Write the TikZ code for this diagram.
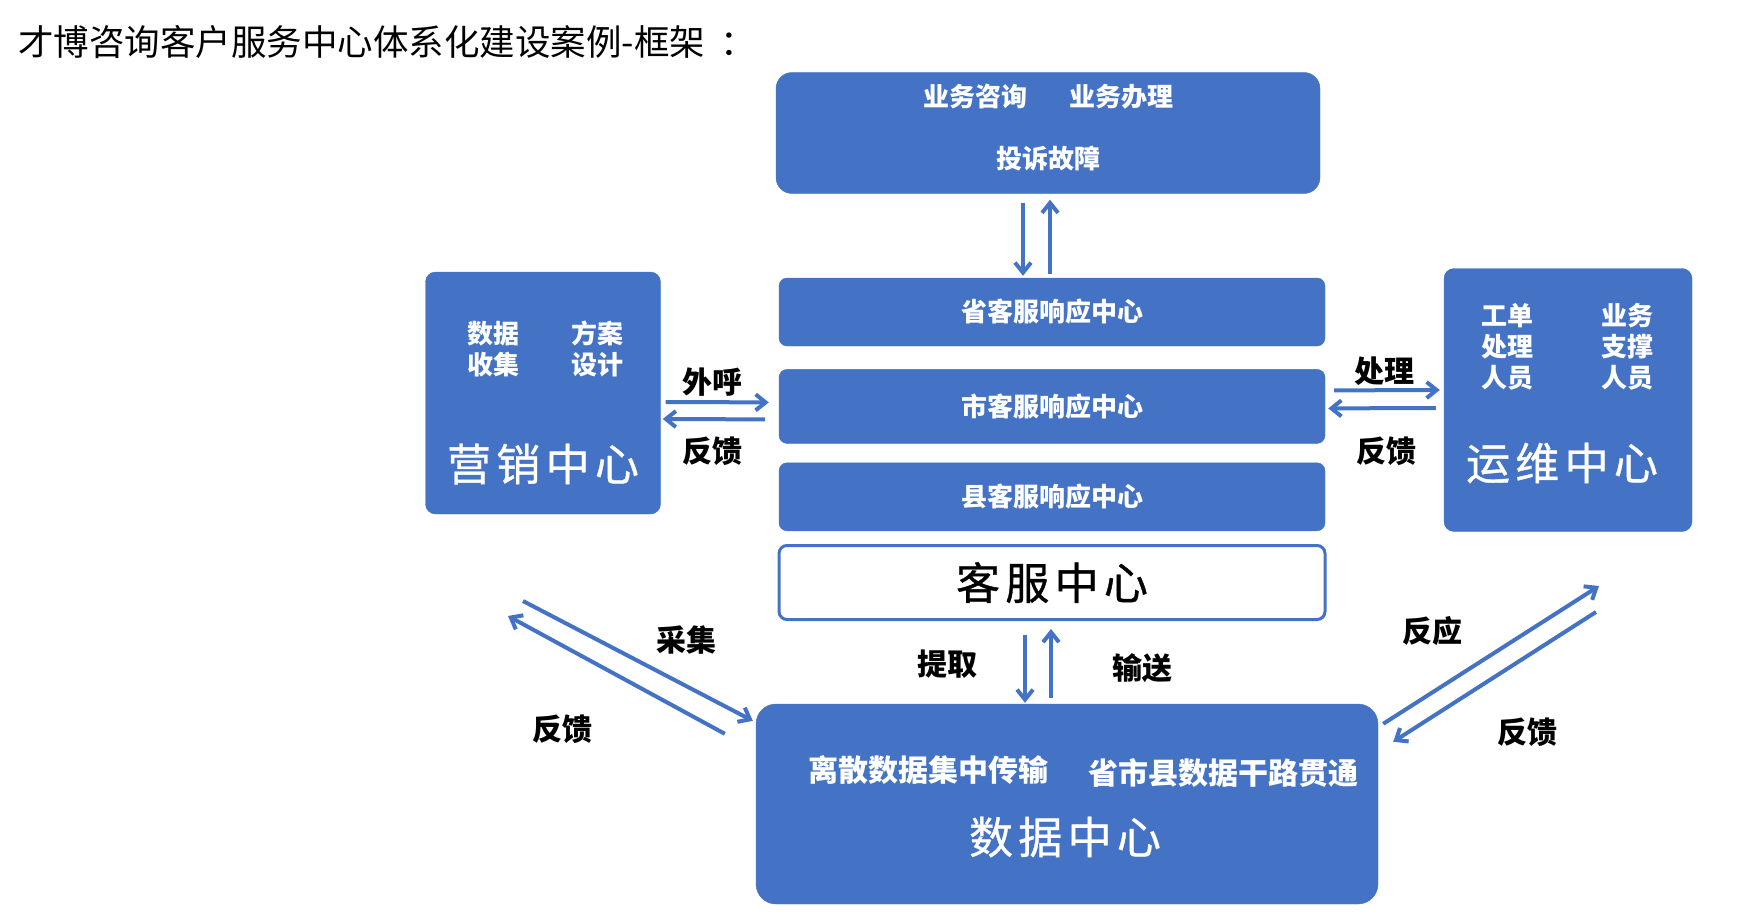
\documentclass[tikz,border=0pt]{standalone}
\usepackage{fontspec}
\setmainfont{Noto Sans CJK SC}
\newfontfamily\cjkwide[LetterSpace=12, FakeBold=0.8]{Noto Sans CJK SC}
\definecolor{CSblue}{RGB}{68, 114, 196}
\usetikzlibrary{arrows.meta, positioning}

\begin{document}
\begin{tikzpicture}[x=1pt, y=-1pt,
                box/.style={rectangle,
                rounded corners=10pt,
                draw=CSblue,
                fill=CSblue,
                text=white,
                font=\fontsize{26}{31}\selectfont\bfseries,
                align=center,
                inner sep=0pt},
                bar/.style={box, rounded corners=8pt,
                minimum width=546pt, minimum height=68pt},
                txt/.style={text=white, align=center, inner sep=0pt,
                font=\fontsize{26}{31}\selectfont\bfseries},
                big/.style={inner sep=0pt, text=white,
                font=\cjkwide\fontsize{44}{50}\selectfont},
                lbl/.style={inner sep=0pt,
                font=\fontsize{30}{34}\selectfont\bfseries},
                arr/.style={-{Straight Barb[length=10pt, width=16pt]},
                CSblue, line width=4pt},
                node distance=23pt]
                \useasboundingbox (0,0) rectangle (1745,915);
                \node[anchor=west, inner sep=0pt,
                      font=\fontsize{35.5}{40}\selectfont] (title) at (18,42)
                    {才博咨询客户服务中心体系化建设案例-框架\hspace{16pt}：};
                % service channels
                \node[box, rounded corners=16pt, minimum width=544pt,
                      minimum height=121pt] (chan) at (1048,133) {};
                \node[txt] (chan-t) at (1048,128)
                    {业务咨询\hspace{42pt}业务办理\\[31pt]投诉故障};
                % customer service levels
                \node[bar] (prov) at (1052,312) {省客服响应中心};
                \node[bar, minimum height=74pt, below=23pt of prov] (city)
                    {市客服响应中心};
                \node[bar, below=19pt of city] (cnty) {县客服响应中心};
                \node[bar, below=13pt of cnty, minimum height=74pt,
                      fill=white, line width=3pt] (svc) {};
                \node[big, text=black] at (svc) {客服中心};
                % marketing
                \node[box, minimum width=235pt, minimum height=242pt]
                    (mkt) at (543,393) {};
                \node[txt] (mkt-a) at (493,349) {数据\\收集};
                \node[txt] (mkt-b) at (597,349) {方案\\设计};
                \node[big] (mkt-t) at (543,464) {营销中心};
                % operations
                \node[box, minimum width=248pt, minimum height=263pt]
                    (ops) at (1568,400) {};
                \node[txt] (ops-a) at (1507,347) {工单\\处理\\人员};
                \node[txt] (ops-b) at (1627,347) {业务\\支撑\\人员};
                \node[big] (ops-t) at (1562,463) {运维中心};
                % data
                \node[box, rounded corners=20pt, minimum width=622pt,
                      minimum height=200pt] (data) at (1067,804) {};
                \node[txt, font=\fontsize{30}{34}\selectfont\bfseries]
                    (data-a) at (928,770) {离散数据集中传输};
                \node[txt, font=\fontsize{30}{34}\selectfont\bfseries]
                    (data-b) at (1223,773) {省市县数据干路贯通};
                \node[big] (data-t) at (1065,837) {数据中心};
                % free ends
                \coordinate (lt-a) at (523,601);
                \coordinate (lt-b) at (508,616);
                \coordinate (rt-a) at (1599,586);
                \coordinate (rt-b) at (1596,612);
                % connectors
                \draw[arr] ([shift={(-25,9)}]chan.south) -- ([shift={(-29,-2)}]prov.north);
                \draw[arr] ([shift={(-2,-4)}]prov.north) -- ([shift={(2,6)}]chan.south);
                \draw[arr] ([shift={(5,9)}]mkt.east) -- ([shift={(-10,-4)}]city.west);
                \draw[arr] ([shift={(-14,13)}]city.west) -- ([shift={(2,26)}]mkt.east);
                \draw[arr] ([shift={(9,-16)}]city.east) -- ([shift={(-4,-10)}]ops.west);
                \draw[arr] ([shift={(-8,8)}]ops.west) -- ([shift={(3,2)}]city.east);
                \draw[arr] ([shift={(-27,14)}]svc.south) -- ([shift={(-42,-1)}]data.north);
                \draw[arr] ([shift={(-16,-6)}]data.north) -- ([shift={(-1,8)}]svc.south);
                \draw[arr] (lt-a) -- ([shift={(-3,17)}]data.north west);
                \draw[arr] ([shift={(-31,30)}]data.north west) -- (lt-b);
                \draw[arr] ([shift={(5,20)}]data.north east) -- (rt-a);
                \draw[arr] (rt-b) -- ([shift={(15,38)}]data.north east);
                % connector labels
                \node[lbl] (l-out) at (712,382) {外呼};
                \node[lbl] (l-fb1) at (712,451) {反馈};
                \node[lbl] (l-do) at (1384,371) {处理};
                \node[lbl] (l-fb2) at (1386,451) {反馈};
                \node[lbl] (l-get) at (947,664) {提取};
                \node[lbl] (l-send) at (1142,668) {输送};
                \node[lbl] (l-col) at (686,640) {采集};
                \node[lbl] (l-fb3) at (562,729) {反馈};
                \node[lbl] (l-resp) at (1432,631) {反应};
                \node[lbl] (l-fb4) at (1527,732) {反馈};
\end{tikzpicture}
\end{document}
